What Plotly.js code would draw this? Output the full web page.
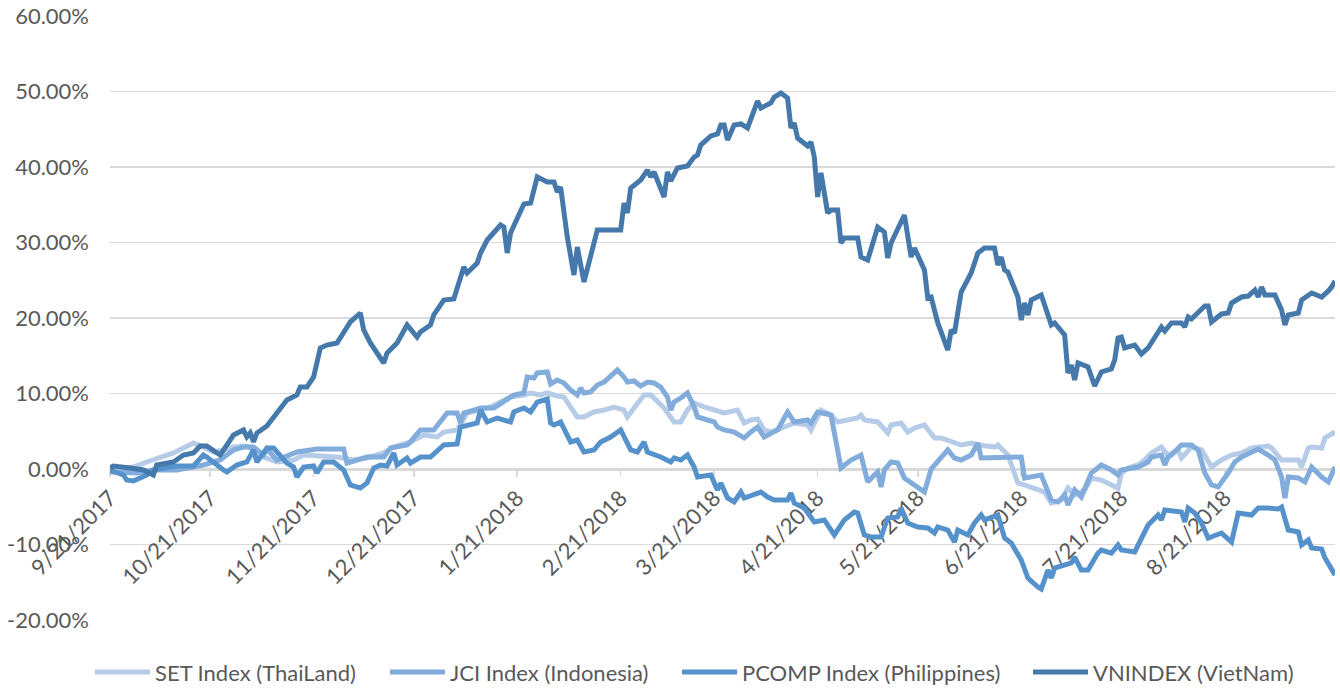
<!DOCTYPE html>
<html>
<head>
<meta charset="utf-8">
<script src="https://cdn.plot.ly/plotly-3.0.1.min.js"></script>
<style>
html,body{margin:0;padding:0;background:#fff;}
#chart{width:1340px;height:688px;}
</style>
</head>
<body>
<div id="chart"></div>
<script>
// ---- Data (percent change since 9/21/2017) ----
const seriesNames = ["SET Index (ThaiLand)", "JCI Index (Indonesia)", "PCOMP Index (Philippines)", "VNINDEX (VietNam)"];

const setDates = ["2017-09-21","2017-09-28","2017-10-02","2017-10-07","2017-10-10","2017-10-13","2017-10-16","2017-10-19","2017-10-22","2017-10-25","2017-10-28","2017-11-01","2017-11-06","2017-11-10","2017-11-15","2017-11-18","2017-11-24","2017-11-28","2017-12-03","2017-12-07","2017-12-12","2017-12-15","2017-12-20","2017-12-24","2017-12-28","2017-12-30","2018-01-03","2018-01-06","2018-01-10","2018-01-13","2018-01-16","2018-01-19","2018-01-23","2018-01-25","2018-01-28","2018-01-30","2018-02-02","2018-02-04","2018-02-06","2018-02-08","2018-02-10","2018-02-13","2018-02-16","2018-02-19","2018-02-22","2018-02-23","2018-02-25","2018-02-28","2018-03-02","2018-03-04","2018-03-06","2018-03-09","2018-03-11","2018-03-13","2018-03-15","2018-03-18","2018-03-21","2018-03-24","2018-03-28","2018-03-30","2018-04-01","2018-04-03","2018-04-05","2018-04-07","2018-04-11","2018-04-14","2018-04-18","2018-04-19","2018-04-22","2018-04-25","2018-04-27","2018-05-01","2018-05-03","2018-05-04","2018-05-05","2018-05-09","2018-05-12","2018-05-13","2018-05-16","2018-05-18","2018-05-20","2018-05-23","2018-05-26","2018-05-28","2018-05-31","2018-06-03","2018-06-06","2018-06-08","2018-06-13","2018-06-14","2018-06-17","2018-06-20","2018-06-22","2018-06-26","2018-06-28","2018-06-30","2018-07-03","2018-07-05","2018-07-07","2018-07-10","2018-07-12","2018-07-15","2018-07-18","2018-07-20","2018-07-21","2018-07-23","2018-07-26","2018-07-28","2018-07-30","2018-08-02","2018-08-04","2018-08-07","2018-08-08","2018-08-11","2018-08-14","2018-08-16","2018-08-17","2018-08-20","2018-08-23","2018-08-26","2018-08-29","2018-09-03","2018-09-04","2018-09-07","2018-09-09","2018-09-12","2018-09-13","2018-09-15","2018-09-16","2018-09-19","2018-09-20","2018-09-23"];
const setValues = [-0.13,0.26,0.93,1.59,2.12,2.78,3.44,2.91,2.25,2.52,2.91,3.05,1.59,0.93,1.19,1.85,1.72,1.59,1.19,1.46,2.12,2.91,3.58,4.50,4.24,4.90,5.17,7.42,7.81,8.21,8.87,9.54,9.80,10.07,9.80,10.07,9.67,9.54,8.21,6.89,6.89,7.55,7.81,8.21,7.81,6.89,8.08,9.80,9.80,8.87,8.08,6.23,6.23,7.81,8.74,8.21,7.81,7.42,7.81,6.09,6.49,6.62,5.17,4.90,5.56,6.09,5.83,5.17,7.81,7.15,6.23,6.49,6.75,7.15,6.49,6.23,4.77,5.83,6.09,4.90,5.43,5.83,4.11,4.11,3.58,3.18,3.44,3.18,2.91,3.18,1.85,-1.85,-2.12,-2.78,-3.05,-4.50,-4.11,-2.52,-3.44,-2.78,-1.19,-1.46,-2.12,-2.52,-0.53,0.13,0.53,1.19,2.12,2.91,1.85,2.52,1.46,2.91,2.52,1.19,0.26,1.19,1.85,2.12,2.78,3.05,2.78,1.19,1.19,1.19,0.26,2.78,2.91,2.78,4.11,4.90];

const jciDates = ["2017-09-21","2017-09-29","2017-10-04","2017-10-11","2017-10-16","2017-10-19","2017-10-24","2017-10-28","2017-10-31","2017-11-03","2017-11-06","2017-11-07","2017-11-10","2017-11-16","2017-11-22","2017-11-30","2017-12-01","2017-12-07","2017-12-12","2017-12-14","2017-12-19","2017-12-20","2017-12-23","2017-12-27","2017-12-31","2018-01-03","2018-01-04","2018-01-05","2018-01-08","2018-01-10","2018-01-14","2018-01-17","2018-01-20","2018-01-23","2018-01-24","2018-01-26","2018-01-27","2018-01-30","2018-01-31","2018-02-02","2018-02-04","2018-02-06","2018-02-08","2018-02-09","2018-02-10","2018-02-12","2018-02-14","2018-02-16","2018-02-20","2018-02-22","2018-02-23","2018-02-25","2018-02-27","2018-03-01","2018-03-03","2018-03-05","2018-03-07","2018-03-08","2018-03-09","2018-03-11","2018-03-13","2018-03-15","2018-03-16","2018-03-19","2018-03-21","2018-03-22","2018-03-24","2018-03-27","2018-03-30","2018-04-01","2018-04-03","2018-04-05","2018-04-07","2018-04-09","2018-04-12","2018-04-14","2018-04-18","2018-04-19","2018-04-21","2018-04-25","2018-04-28","2018-05-01","2018-05-04","2018-05-06","2018-05-08","2018-05-09","2018-05-10","2018-05-11","2018-05-13","2018-05-15","2018-05-17","2018-05-19","2018-05-23","2018-05-25","2018-05-28","2018-05-30","2018-06-01","2018-06-03","2018-06-06","2018-06-08","2018-06-09","2018-06-14","2018-06-21","2018-06-22","2018-06-27","2018-06-30","2018-07-02","2018-07-04","2018-07-05","2018-07-07","2018-07-09","2018-07-12","2018-07-15","2018-07-18","2018-07-20","2018-07-21","2018-07-26","2018-07-29","2018-07-30","2018-08-02","2018-08-03","2018-08-04","2018-08-05","2018-08-08","2018-08-11","2018-08-13","2018-08-15","2018-08-17","2018-08-19","2018-08-22","2018-08-24","2018-08-26","2018-08-29","2018-08-31","2018-09-03","2018-09-05","2018-09-07","2018-09-08","2018-09-09","2018-09-12","2018-09-14","2018-09-16","2018-09-19","2018-09-21","2018-09-23"];
const jciValues = [-0.40,-0.53,-0.13,-0.13,0.26,0.53,1.19,2.52,2.91,2.91,1.85,2.65,1.19,2.25,2.65,2.65,0.79,1.59,1.59,2.78,3.18,3.58,5.17,5.17,7.42,7.42,6.09,7.42,7.81,8.08,8.08,8.87,9.80,10.07,12.19,12.05,12.72,12.85,11.26,11.79,11.39,10.46,9.80,10.73,10.07,10.20,11.13,11.52,13.11,12.19,11.52,11.66,10.99,11.52,11.39,10.86,9.54,7.81,8.87,9.40,10.07,8.21,6.89,6.49,6.23,5.56,5.17,4.90,4.11,4.90,5.56,4.24,4.77,5.17,7.55,6.23,6.49,6.09,7.55,7.15,0.13,1.19,1.85,-1.72,-0.79,-0.40,-2.38,-0.13,0.93,0.79,-1.19,-1.85,-3.05,0.00,1.46,2.52,1.46,1.19,1.85,3.44,1.46,1.46,1.59,-1.19,-0.79,-4.11,-4.37,-3.44,-4.77,-2.78,-3.71,-0.53,0.53,-0.13,-0.79,-0.13,0.26,0.93,1.59,1.85,0.53,1.59,1.85,3.18,3.18,2.52,-0.53,-2.12,-2.38,-0.53,0.93,1.59,2.12,2.65,1.85,1.19,-1.06,-3.84,-1.06,-1.19,-1.72,0.26,-1.06,-1.72,0.26];

const pcompDates = ["2017-09-21","2017-09-25","2017-09-26","2017-09-28","2017-10-02","2017-10-04","2017-10-11","2017-10-16","2017-10-19","2017-10-20","2017-10-25","2017-10-26","2017-10-29","2017-11-01","2017-11-03","2017-11-04","2017-11-07","2017-11-09","2017-11-13","2017-11-15","2017-11-16","2017-11-18","2017-11-21","2017-11-22","2017-11-24","2017-11-27","2017-11-30","2017-12-02","2017-12-05","2017-12-07","2017-12-09","2017-12-11","2017-12-13","2017-12-15","2017-12-16","2017-12-19","2017-12-20","2017-12-23","2017-12-26","2017-12-30","2018-01-03","2018-01-04","2018-01-09","2018-01-10","2018-01-12","2018-01-15","2018-01-19","2018-01-20","2018-01-23","2018-01-25","2018-01-27","2018-01-30","2018-01-31","2018-02-01","2018-02-03","2018-02-06","2018-02-08","2018-02-10","2018-02-13","2018-02-15","2018-02-18","2018-02-21","2018-02-24","2018-02-26","2018-02-28","2018-03-01","2018-03-05","2018-03-08","2018-03-09","2018-03-11","2018-03-13","2018-03-15","2018-03-16","2018-03-20","2018-03-22","2018-03-23","2018-03-25","2018-03-27","2018-03-29","2018-03-30","2018-04-04","2018-04-06","2018-04-08","2018-04-12","2018-04-13","2018-04-14","2018-04-17","2018-04-19","2018-04-20","2018-04-23","2018-04-26","2018-04-29","2018-05-02","2018-05-03","2018-05-05","2018-05-07","2018-05-10","2018-05-12","2018-05-15","2018-05-16","2018-05-18","2018-05-21","2018-05-24","2018-05-26","2018-05-27","2018-05-30","2018-06-01","2018-06-02","2018-06-05","2018-06-07","2018-06-09","2018-06-10","2018-06-12","2018-06-14","2018-06-16","2018-06-18","2018-06-21","2018-06-23","2018-06-26","2018-06-27","2018-06-29","2018-06-30","2018-07-01","2018-07-06","2018-07-07","2018-07-09","2018-07-11","2018-07-14","2018-07-15","2018-07-18","2018-07-20","2018-07-21","2018-07-25","2018-07-29","2018-08-01","2018-08-02","2018-08-03","2018-08-07","2018-08-08","2018-08-09","2018-08-10","2018-08-12","2018-08-14","2018-08-16","2018-08-17","2018-08-20","2018-08-23","2018-08-25","2018-08-29","2018-08-31","2018-09-03","2018-09-06","2018-09-07","2018-09-09","2018-09-12","2018-09-13","2018-09-15","2018-09-16","2018-09-19","2018-09-20","2018-09-23"];
const pcompValues = [-0.13,-0.79,-1.46,-1.59,-0.79,-0.13,0.40,0.40,1.85,1.59,-0.13,-0.40,0.53,0.93,2.52,0.93,2.78,2.78,0.79,0.26,-1.06,0.26,0.40,-0.53,0.93,0.93,-0.13,-2.12,-2.52,-1.85,0.13,0.53,0.40,2.12,0.53,1.46,0.79,1.59,1.59,3.18,3.31,5.56,6.09,7.81,6.23,6.75,6.23,7.55,8.08,7.55,8.87,9.27,6.09,5.83,6.23,3.58,3.84,2.25,2.52,3.58,4.24,5.17,2.52,2.25,3.58,2.25,1.59,0.93,1.46,1.19,1.85,0.26,-1.06,-0.79,-2.78,-1.85,-3.84,-4.37,-3.05,-3.84,-3.05,-3.71,-4.11,-4.11,-3.18,-4.50,-5.17,-6.36,-7.02,-6.75,-8.74,-6.75,-5.70,-5.83,-8.74,-9.01,-9.01,-6.49,-6.36,-5.17,-7.15,-7.68,-7.81,-8.48,-7.68,-8.08,-9.67,-8.08,-8.74,-7.15,-6.09,-6.75,-6.36,-6.09,-9.14,-9.80,-12.05,-14.44,-15.63,-15.89,-13.38,-14.44,-13.11,-12.45,-11.66,-13.38,-13.38,-11.13,-10.73,-11.13,-10.07,-10.73,-10.99,-7.42,-6.09,-6.75,-5.43,-5.70,-5.70,-7.02,-5.17,-5.83,-7.15,-9.14,-9.01,-8.48,-9.67,-5.83,-6.09,-5.17,-5.17,-5.30,-5.03,-8.08,-8.34,-10.07,-9.40,-10.46,-10.60,-11.79,-14.04];

const vnDates = ["2017-09-21","2017-09-22","2017-09-27","2017-10-01","2017-10-04","2017-10-05","2017-10-10","2017-10-13","2017-10-16","2017-10-18","2017-10-20","2017-10-24","2017-10-28","2017-10-31","2017-11-01","2017-11-02","2017-11-03","2017-11-04","2017-11-07","2017-11-09","2017-11-11","2017-11-13","2017-11-16","2017-11-17","2017-11-19","2017-11-21","2017-11-23","2017-11-25","2017-11-28","2017-11-30","2017-12-02","2017-12-05","2017-12-06","2017-12-08","2017-12-12","2017-12-13","2017-12-15","2017-12-16","2017-12-19","2017-12-22","2017-12-23","2017-12-26","2017-12-27","2017-12-30","2018-01-02","2018-01-05","2018-01-06","2018-01-09","2018-01-10","2018-01-12","2018-01-16","2018-01-17","2018-01-18","2018-01-19","2018-01-23","2018-01-25","2018-01-27","2018-01-30","2018-02-01","2018-02-02","2018-02-03","2018-02-05","2018-02-07","2018-02-08","2018-02-10","2018-02-14","2018-02-21","2018-02-22","2018-02-23","2018-02-24","2018-02-27","2018-03-01","2018-03-02","2018-03-03","2018-03-06","2018-03-07","2018-03-08","2018-03-10","2018-03-13","2018-03-15","2018-03-16","2018-03-17","2018-03-20","2018-03-22","2018-03-23","2018-03-24","2018-03-25","2018-03-27","2018-03-29","2018-03-31","2018-04-03","2018-04-04","2018-04-07","2018-04-08","2018-04-10","2018-04-12","2018-04-13","2018-04-14","2018-04-15","2018-04-18","2018-04-19","2018-04-20","2018-04-21","2018-04-22","2018-04-24","2018-04-25","2018-04-27","2018-04-28","2018-04-29","2018-05-03","2018-05-04","2018-05-06","2018-05-09","2018-05-11","2018-05-12","2018-05-13","2018-05-17","2018-05-19","2018-05-20","2018-05-23","2018-05-24","2018-05-25","2018-05-27","2018-05-30","2018-05-31","2018-06-01","2018-06-03","2018-06-06","2018-06-08","2018-06-10","2018-06-13","2018-06-14","2018-06-15","2018-06-16","2018-06-17","2018-06-20","2018-06-21","2018-06-22","2018-06-23","2018-06-24","2018-06-27","2018-06-30","2018-07-01","2018-07-04","2018-07-05","2018-07-06","2018-07-07","2018-07-08","2018-07-11","2018-07-13","2018-07-15","2018-07-18","2018-07-19","2018-07-20","2018-07-21","2018-07-22","2018-07-25","2018-07-27","2018-07-29","2018-08-02","2018-08-03","2018-08-05","2018-08-08","2018-08-09","2018-08-10","2018-08-11","2018-08-15","2018-08-16","2018-08-17","2018-08-20","2018-08-22","2018-08-23","2018-08-26","2018-08-28","2018-08-30","2018-08-31","2018-09-01","2018-09-02","2018-09-05","2018-09-07","2018-09-08","2018-09-09","2018-09-12","2018-09-13","2018-09-16","2018-09-19","2018-09-21","2018-09-22","2018-09-23"];
const vnValues = [0.13,0.40,0.13,-0.13,-0.79,0.53,0.93,1.85,2.12,3.05,3.05,1.85,4.50,5.17,4.24,4.77,3.58,4.77,5.70,6.89,8.08,9.14,9.80,10.86,10.86,12.19,16.03,16.42,16.69,18.15,19.47,20.66,18.41,16.69,14.04,15.36,16.16,16.69,19.07,17.48,18.15,19.07,20.40,22.38,22.52,26.75,25.96,27.28,28.61,30.33,32.32,32.05,28.61,31.26,35.10,35.23,38.68,38.01,38.01,36.69,37.35,30.73,25.70,29.40,24.77,31.66,31.66,35.23,33.91,37.22,38.28,39.60,38.68,39.34,36.03,39.34,38.15,39.87,40.13,41.32,41.59,42.91,44.11,44.37,45.56,45.56,43.58,45.56,45.70,45.17,48.74,47.81,48.48,49.27,49.80,49.14,45.17,45.83,43.84,42.78,43.31,41.32,36.03,39.21,33.91,34.30,34.30,29.93,30.60,30.60,28.08,27.68,32.05,31.39,27.95,29.93,33.64,28.08,29.27,26.36,22.65,22.78,19.34,15.76,18.41,18.01,23.44,25.96,28.61,29.27,29.27,27.02,28.08,26.36,26.09,22.78,19.73,21.99,20.40,22.38,23.05,19.07,19.34,17.75,12.72,13.77,11.79,14.04,13.51,10.99,12.85,13.25,14.44,17.35,17.48,16.03,16.42,15.23,16.03,18.81,18.28,19.34,19.34,18.81,20.13,19.87,21.59,21.59,19.47,20.53,20.66,21.99,22.78,22.91,23.71,22.78,24.11,23.05,23.05,21.06,19.07,20.40,20.66,22.38,23.31,22.78,23.58,24.11,24.90];

const yTickVals = [-20, -10, 0, 10, 20, 30, 40, 50, 60];
const xTickVals = ["2017-09-21","2017-10-21","2017-11-21","2017-12-21","2018-01-21","2018-02-21","2018-03-21","2018-04-21","2018-05-21","2018-06-21","2018-07-21","2018-08-21"];
const colors = ["#b5cbe7", "#82acdb", "#5592cb", "#4679ab"];

// ---- Chart ----
const FONT = "Lato, 'Open Sans', sans-serif";
const W = 1340, H = 688;
const M = { l: 110, r: 5, t: 16, b: 68 };
const plotW = W - M.l - M.r, plotH = H - M.t - M.b;
const px2paperX = px => (px - M.l) / plotW;
const px2paperY = py => (H - M.b - py) / plotH;

const dateArrays = [setDates, jciDates, pcompDates, vnDates];
const valueArrays = [setValues, jciValues, pcompValues, vnValues];

const traces = seriesNames.map((name, i) => ({
  type: "scatter",
  mode: "lines",
  name: name,
  x: dateArrays[i],
  y: valueArrays[i],
  line: { color: colors[i], width: 5, shape: "linear" },
  hoverinfo: "skip",
  showlegend: false
}));

// Legend drawn as shapes + text (Excel-style bottom legend)
const legendStartPx = [95, 390, 682, 1033];
const legendY = px2paperY(672);
const shapes = [], annotations = [];
seriesNames.forEach((name, i) => {
  const x0 = legendStartPx[i];
  shapes.push({
    type: "line", xref: "paper", yref: "paper",
    x0: px2paperX(x0), x1: px2paperX(x0 + 55), y0: legendY, y1: legendY,
    line: { color: colors[i], width: 5 }
  });
  annotations.push({
    xref: "paper", yref: "paper",
    x: px2paperX(x0 + 58), y: legendY,
    xanchor: "left", yanchor: "middle",
    text: name, showarrow: false,
    font: { family: FONT, size: 22, color: "#595959" }
  });
});

const layout = {
  width: W,
  height: H,
  paper_bgcolor: "#ffffff",
  plot_bgcolor: "#ffffff",
  margin: M,
  font: { family: FONT, color: "#595959", size: 22 },
  showlegend: false,
  shapes: shapes,
  annotations: annotations,
  xaxis: {
    type: "date",
    range: ["2017-09-21", "2018-09-23"],
    anchor: "free",
    position: 0.25,
    showgrid: false,
    zeroline: false,
    showline: true,
    linecolor: "#d9d9d9",
    linewidth: 1.5,
    ticks: "outside",
    ticklen: 6,
    tickwidth: 1.5,
    tickcolor: "#d9d9d9",
    tickvals: xTickVals,
    ticktext: xTickVals.map(d => { const p = d.split("-"); return (+p[1]) + "/" + (+p[2]) + "/" + p[0]; }),
    tickangle: -45,
    tickfont: { family: FONT, size: 22, color: "#595959" },
    layer: "below traces"
  },
  yaxis: {
    range: [-20, 60],
    tickvals: yTickVals,
    ticktext: yTickVals.map(v => v.toFixed(2) + "%"),
    showgrid: true,
    gridcolor: "#d9d9d9",
    gridwidth: 1.5,
    zeroline: false,
    showline: false,
    ticks: "",
    ticklabelstandoff: 20,
    tickfont: { family: FONT, size: 22, color: "#595959" },
    layer: "below traces"
  }
};

Plotly.newPlot("chart", traces, layout, { staticPlot: true, displayModeBar: false });
</script>
</body>
</html>
